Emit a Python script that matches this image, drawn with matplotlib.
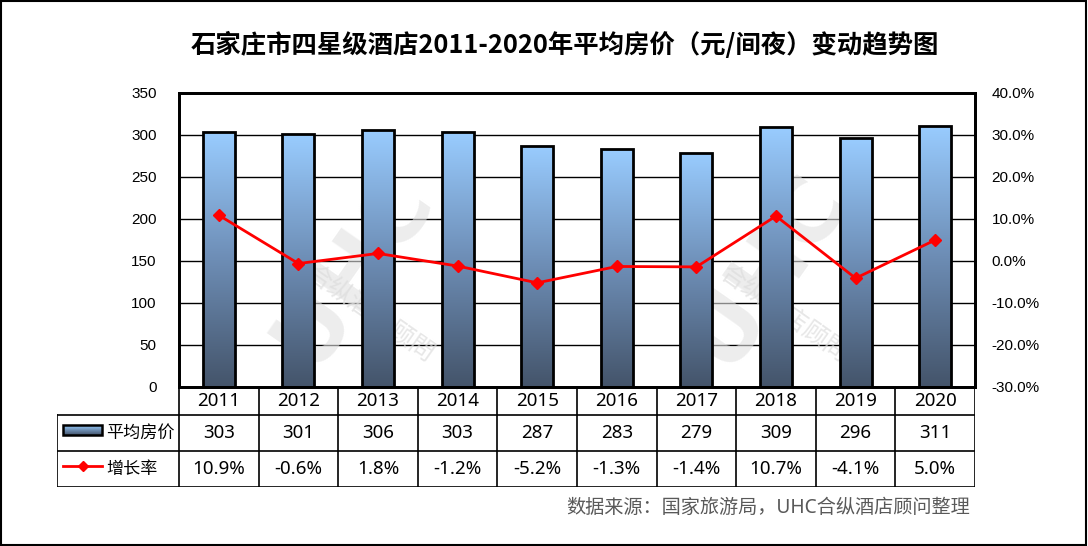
import numpy as np
import matplotlib
matplotlib.use("Agg")
import matplotlib.pyplot as plt
from matplotlib.patches import Rectangle
from matplotlib.colors import LinearSegmentedColormap

plt.rcParams['font.family'] = ['Noto Sans CJK SC', 'DejaVu Sans']
TXT = ['Noto Sans', 'Noto Sans CJK SC']  # latin digits like YaHei, CJK fallback

years = ['2011', '2012', '2013', '2014', '2015', '2016', '2017', '2018', '2019', '2020']
avg_price = [303, 301, 306, 303, 287, 283, 279, 309, 296, 311]
growth = [10.9, -0.6, 1.8, -1.2, -5.2, -1.3, -1.4, 10.7, -4.1, 5.0]

title = '石家庄市四星级酒店2011-2020年平均房价（元/间夜）变动趋势图'
source = '数据来源：国家旅游局，UHC合纵酒店顾问整理'
bar_label = '平均房价'
line_label = '增长率'

W, H = 1088, 546
fig = plt.figure(figsize=(W / 100, H / 100), dpi=100)

def fx(px):
    return px / W

def fy(py):
    return 1 - py / H

# plot area in pixels
L, R, T, B = 179, 975, 93, 387
ax = fig.add_axes([fx(L), fy(B), fx(R - L), (B - T) / H])
ax2 = ax.twinx()

grad = LinearSegmentedColormap.from_list('g', ['#44546a', '#6d8db5', '#99ccff'])
gimg = np.linspace(0, 1, 256).reshape(-1, 1)

x = np.arange(len(years))
bw = 0.4
bars = ax.bar(x, avg_price, width=bw, color='none', edgecolor='black', linewidth=2, zorder=3)
for b in bars:
    x0, y0 = b.get_x(), b.get_y()
    im = ax.imshow(gimg, cmap=grad, origin='lower', aspect='auto',
                   extent=[x0, x0 + b.get_width(), y0, y0 + b.get_height()], zorder=2)
    im.set_clip_path(b)

ax.set_xlim(-0.5, len(years) - 0.5)
ax.set_ylim(0, 350)
ax.set_yticks(np.arange(0, 351, 50))
ax.set_xticks([])
ax.yaxis.grid(True, color='black', linewidth=1.0, zorder=0)
ax.set_axisbelow(True)
for s in ax.spines.values():
    s.set_linewidth(2)
for s in ax2.spines.values():
    s.set_linewidth(2)

ax2.plot(x, growth, color='red', linewidth=2, marker='D', markersize=6, zorder=5)
ax2.set_ylim(-30, 40)
ax2.set_yticks(np.arange(-30, 41, 10))
ax2.set_yticklabels([f'{v:.1f}%' for v in np.arange(-30, 41, 10)])

for a, pad in ((ax, 16), (ax2, 12)):
    a.tick_params(axis='y', length=0, pad=pad, labelsize=11)
    for lab in a.get_yticklabels():
        lab.set_fontfamily('Liberation Sans')
ax.tick_params(axis='x', length=0)

# faint watermarks
for cx in (0.22, 0.74):
    ax.text(cx, 0.4, 'UHC', transform=ax.transAxes, fontsize=64, fontweight='bold',
            color='#e2e2e2', alpha=0.6, rotation=55, ha='center', va='center',
            fontfamily='DejaVu Sans', zorder=1)
    ax.text(cx + 0.02, 0.25, '合纵酒店顾問', transform=ax.transAxes, fontsize=18,
            color='#dddddd', alpha=0.7, rotation=-35, ha='center', va='center', zorder=1)

# data table below plot
TL = 57
tax = fig.add_axes([fx(TL), fy(487), fx(R - TL), 100 / H])
cw = (R - L) / len(years)
xl = -0.5 - (L - TL) / cw
tax.axis('off')
lw = 1.2
tax.plot([-0.5, -0.5], [0, 100], color='black', lw=lw)
tax.plot([xl, xl], [28, 100], color='black', lw=lw)
for i in range(len(years)):
    tax.plot([i + 0.5, i + 0.5], [0, 100], color='black', lw=lw)
for yy in (28, 64, 100):
    tax.plot([xl, len(years) - 0.5], [yy, yy], color='black', lw=lw)

fs = 13.5
for i in range(len(years)):
    tax.text(i, 14, years[i], ha='center', va='center', fontsize=fs, family=TXT)
    tax.text(i, 46, str(avg_price[i]), ha='center', va='center', fontsize=fs, family=TXT)
    tax.text(i, 82, f'{growth[i]:.1f}%', ha='center', va='center', fontsize=fs, family=TXT)

# legend keys
k0 = xl + (63 - TL) / cw
k1 = xl + (102 - TL) / cw
key = Rectangle((k0, 38), k1 - k0, 10, facecolor='none', edgecolor='black', lw=1.8, zorder=3)
tax.add_patch(key)
kim = tax.imshow(gimg, cmap=LinearSegmentedColormap.from_list('k', ['#99ccff', '#44546a']),
                 origin='upper', aspect='auto', extent=[k0, k1, 48, 38], zorder=2)
kim.set_clip_path(key)
tax.plot([k0, k1], [79, 79], color='red', lw=2)
tax.plot([(k0 + k1) / 2], [79], color='red', marker='D', markersize=5)
tax.text(xl + (106 - TL) / cw, 46, bar_label, ha='left', va='center', fontsize=12.3)
tax.text(xl + (106 - TL) / cw, 82, line_label, ha='left', va='center', fontsize=12.3)
tax.set_xlim(xl, len(years) - 0.5)
tax.set_ylim(100, 0)

fig.text(fx(565), fy(45), title, ha='center', va='center', fontsize=18.3, fontweight='bold')
fig.text(fx(970), fy(508), source, ha='right', va='center', fontsize=13.8, color='#595959',
         family=TXT)

fig.add_artist(Rectangle((0.0005, 0.001), 0.998, 0.997, transform=fig.transFigure,
                         facecolor='none', edgecolor='black', lw=1.5))

fig.savefig('out.png', dpi=100)
